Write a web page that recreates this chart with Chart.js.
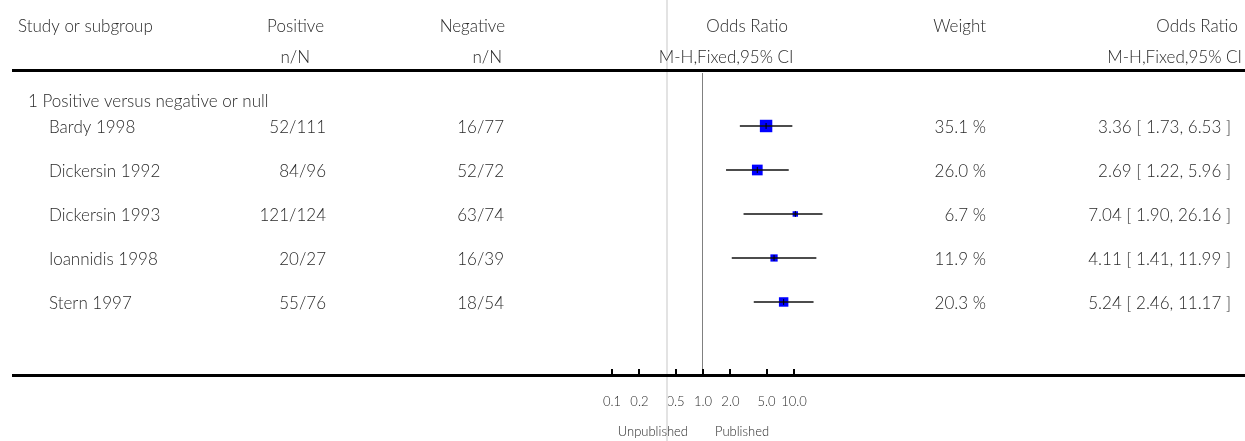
<!DOCTYPE html>
<html>
<head>
<meta charset="utf-8">
<script src="https://cdn.jsdelivr.net/npm/chart.js@4.4.1/dist/chart.umd.min.js"></script>
<style>
html,body{margin:0;padding:0;background:#fff;overflow:hidden}
canvas{display:block}
</style>
</head>
<body>
<canvas id="c" width="1245" height="441"></canvas>
<script>
// ---------------- data ----------------
const STUDIES   = ['Bardy 1998', 'Dickersin 1992', 'Dickersin 1993', 'Ioannidis 1998', 'Stern 1997'];
const POS_EVENTS = [52, 84, 121, 20, 55];
const POS_TOTAL  = [111, 96, 124, 27, 76];
const NEG_EVENTS = [16, 52, 63, 16, 18];
const NEG_TOTAL  = [77, 72, 74, 39, 54];
const WEIGHTS    = [35.1, 26.0, 6.7, 11.9, 20.3];
const ODDS_RATIO = [3.36, 2.69, 7.04, 4.11, 5.24];
const CI_LOW     = [1.73, 1.22, 1.90, 1.41, 2.46];
const CI_HIGH    = [6.53, 5.96, 26.16, 11.99, 11.17];
const SUBGROUP   = '1 Positive versus negative or null';
const TICKS       = [0.1, 0.2, 0.5, 1, 2, 5, 10];
const TICK_LABELS = ['0.1', '0.2', '0.5', '1.0', '2.0', '5.0', '10.0'];
const LEFT_LABEL  = 'Unpublished';
const RIGHT_LABEL = 'Published';

// ---------------- layout / style ----------------
const FONT = 'Lato, "Open Sans", "DejaVu Sans", sans-serif';
const TEXT_FONT = '300 17px ' + FONT;
const TEXT_COLOR = '#2a2a2a';
const W = 1245;
const TEXT_DY = 1.5;
const MARKER_MIN = 0.0681;   // forest marks are drawn shifted vs. the printed axis in the reference
const MARKER_MAX = 6.81;
const CLIP_MAX = 14;         // CI drawn up to here, then arrow
const SQUARE = '#0000ff';

const fmt2 = v => v.toFixed(2);

const forestDecor = {
  id: 'forestDecor',
  beforeDatasetsDraw(chart) {
    const {ctx, chartArea: a, scales: {x}} = chart;
    ctx.save();
    ctx.fillStyle = '#e3e3e3';
    ctx.fillRect(666, 0, 2, chart.height);
    ctx.fillStyle = '#000';
    ctx.fillRect(12, a.top - 2, W - 12, 3);
    ctx.fillRect(12, a.bottom - 1, W - 12, 3);
    const x1 = Math.round(x.getPixelForValue(1)) - 0.5;
    ctx.strokeStyle = '#808080';
    ctx.lineWidth = 1;
    ctx.beginPath();
    ctx.moveTo(x1, a.top + 2);
    ctx.lineTo(x1, a.bottom - 1);
    ctx.stroke();
    ctx.fillStyle = '#000';
    x.ticks.forEach(t => {
      const px = Math.round(x.getPixelForValue(t.value));
      ctx.fillRect(px - 1, a.bottom - 6, 2, 5);
    });
    ctx.restore();
  },
  afterDraw(chart) {
    const {ctx, chartArea: a, scales: {x, y}} = chart;
    ctx.save();
    ctx.fillStyle = TEXT_COLOR;
    ctx.textBaseline = 'middle';
    ctx.font = TEXT_FONT;
    const t = (s, px, py, align) => { ctx.textAlign = align; ctx.fillText(s, px, py + TEXT_DY); };
    const h1 = a.top - 46, h2 = a.top - 15;
    t('Study or subgroup', 18, h1, 'left');
    t('Positive', 324, h1, 'right');
    t('n/N', 310, h2, 'right');
    t('Negative', 505, h1, 'right');
    t('n/N', 502, h2, 'right');
    t('Odds Ratio', 788, h1, 'right');
    t('M-H,Fixed,95% CI', 793.5, h2, 'right');
    t('Weight', 986, h1, 'right');
    t('Odds Ratio', 1238, h1, 'right');
    t('M-H,Fixed,95% CI', 1242, h2, 'right');
    t(SUBGROUP, 28, y.getPixelForValue(-0.59), 'left');
    STUDIES.forEach((s, i) => {
      const py = y.getPixelForValue(i);
      t(s, 49, py, 'left');
      t(POS_EVENTS[i] + '/' + POS_TOTAL[i], 326, py, 'right');
      t(NEG_EVENTS[i] + '/' + NEG_TOTAL[i], 504, py, 'right');
      t(WEIGHTS[i].toFixed(1) + ' %', 986, py, 'right');
      t(fmt2(ODDS_RATIO[i]) + ' [ ' + fmt2(CI_LOW[i]) + ', ' + fmt2(CI_HIGH[i]) + ' ]', 1231, py, 'right');
    });
    ctx.font = '300 13px ' + FONT;
    const x1 = x.getPixelForValue(1);
    t(LEFT_LABEL, x1 - 15, 430, 'right');
    t(RIGHT_LABEL, x1 + 12, 430, 'left');
    ctx.restore();
  }
};

const ciLines = STUDIES.map((s, i) => ({
  type: 'line',
  label: s,
  xAxisID: 'xm', yAxisID: 'y',
  data: [{x: CI_LOW[i], y: i}, {x: Math.min(CI_HIGH[i], CLIP_MAX), y: i}],
  borderColor: '#111', borderWidth: 1.6, pointRadius: 0, fill: false, tension: 0, clip: false
}));

const arrows = {
  type: 'scatter',
  xAxisID: 'xm', yAxisID: 'y',
  data: CI_HIGH.map((v, i) => v > CLIP_MAX ? {x: CLIP_MAX, y: i} : null).filter(Boolean),
  pointStyle: 'triangle', rotation: 90, pointRadius: 3.2,
  backgroundColor: '#000', borderColor: '#000', borderWidth: 1, clip: false
};

const centers = {
  type: 'scatter',
  xAxisID: 'xm', yAxisID: 'y',
  data: ODDS_RATIO.map((v, i) => ({x: v, y: i})),
  pointStyle: 'line', rotation: 90, pointRadius: 3,
  borderColor: '#000', borderWidth: 1, clip: false
};

const squares = {
  type: 'scatter',
  xAxisID: 'xm', yAxisID: 'y',
  data: ODDS_RATIO.map((v, i) => ({x: v, y: i})),
  pointStyle: 'rect',
  pointRadius: c => 1.485 * Math.sqrt(WEIGHTS[c.dataIndex]),
  backgroundColor: SQUARE, borderWidth: 0, clip: false
};

new Chart(document.getElementById('c'), {
  type: 'scatter',
  data: { datasets: [centers, arrows, ...ciLines, squares] },
  options: {
    responsive: false,
    devicePixelRatio: 1,
    animation: false,
    events: [],
    layout: { padding: { left: 612, right: W - 794, top: 71, bottom: 26 } },
    plugins: { legend: {display: false}, tooltip: {enabled: false} },
    scales: {
      x: {
        type: 'logarithmic', position: 'bottom', min: 0.1, max: 10, bounds: 'data',
        afterBuildTicks: s => { s.ticks = TICKS.map(v => ({value: v})); },
        afterFit: s => { s.height = 40; },
        grid: {display: false, drawTicks: false},
        border: {display: false},
        ticks: {
          autoSkip: false, maxRotation: 0, minRotation: 0, padding: 19,
          color: TEXT_COLOR, font: {family: FONT, size: 13, weight: 300},
          callback: (v, i) => TICK_LABELS[i]
        }
      },
      xm: { type: 'logarithmic', axis: 'x', display: false, min: MARKER_MIN, max: MARKER_MAX, bounds: 'data' },
      y: { type: 'linear', display: false, reverse: true, min: -1.25, max: 5.66, bounds: 'data' }
    }
  },
  plugins: [forestDecor]
});
</script>
</body>
</html>
